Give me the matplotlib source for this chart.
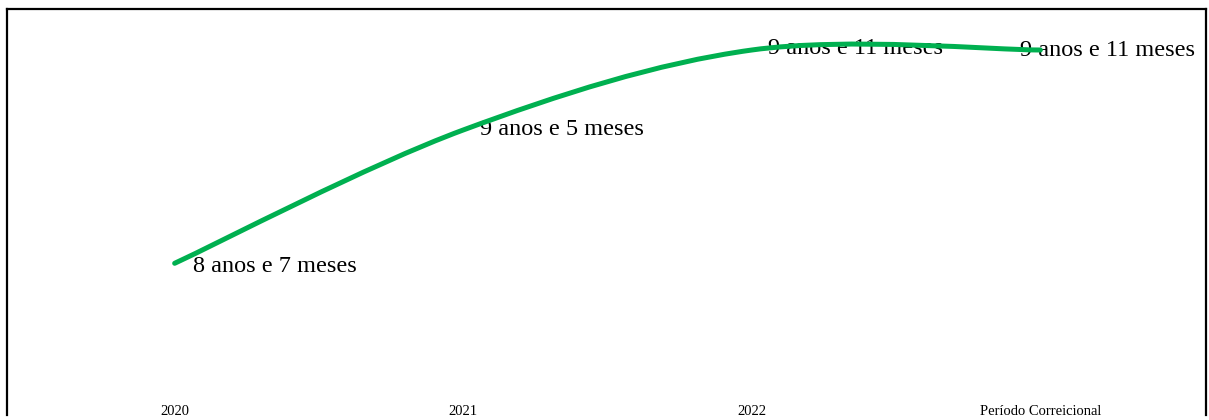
import numpy as np
import matplotlib
matplotlib.use("Agg")
import matplotlib.pyplot as plt
from matplotlib.path import Path
from matplotlib.patches import PathPatch

# ----------------------- Data -----------------------
categories = ["2020", "2021", "2022", "Período Correicional"]
values = [8 + 7 / 12, 9 + 5 / 12, 9 + 11 / 12, 9 + 11 / 12]
labels = ["8 anos e 7 meses", "9 anos e 5 meses", "9 anos e 11 meses", "9 anos e 11 meses"]

GREEN = "#00B050"

# ----------------------- Figure -----------------------
fig = plt.figure(figsize=(12.09, 4.20), dpi=100)
ax = fig.add_axes([7 / 1209, 5 / 420, 1199 / 1209, 406 / 420])

x = np.arange(len(values))
y = np.array(values)

# smoothed line (Catmull-Rom as cubic Bezier segments, like a spreadsheet "smooth line")
verts = [(x[0], y[0])]
codes = [Path.MOVETO]
t = 1 / 6
for i in range(len(x) - 1):
    p0 = np.array([x[max(i - 1, 0)], y[max(i - 1, 0)]])
    p1 = np.array([x[i], y[i]])
    p2 = np.array([x[i + 1], y[i + 1]])
    p3 = np.array([x[min(i + 2, len(x) - 1)], y[min(i + 2, len(x) - 1)]])
    c1 = p1 + (p2 - p0) * t
    c2 = p2 - (p3 - p1) * t
    verts += [tuple(c1), tuple(c2), tuple(p2)]
    codes += [Path.CURVE4] * 3
ax.add_patch(PathPatch(Path(verts, codes), facecolor="none", edgecolor=GREEN,
                       lw=3.6, capstyle="round", zorder=3))

# data labels
offsets = [(13, -2), (12, 0), (12, 1), (-15, 0)]
for xi, yi, lab, off in zip(x, y, labels, offsets):
    ax.annotate(lab, (xi, yi), xytext=off, textcoords="offset points",
                ha="left", va="center", fontsize=17.5, family="Liberation Serif",
                color="black", zorder=2)

ax.set_xlim(-0.581, 3.574)
ax.set_ylim(7.635, 10.173)
ax.set_xticks(x)
ax.set_xticklabels(categories, family="Liberation Serif", fontsize=10.5)
ax.tick_params(axis="x", length=0, pad=-7)
ax.set_yticks([])
for s in ["left", "top", "right"]:
    ax.spines[s].set_linewidth(1.6)
ax.spines["bottom"].set_visible(False)

fig.savefig("out.png", dpi=100)
